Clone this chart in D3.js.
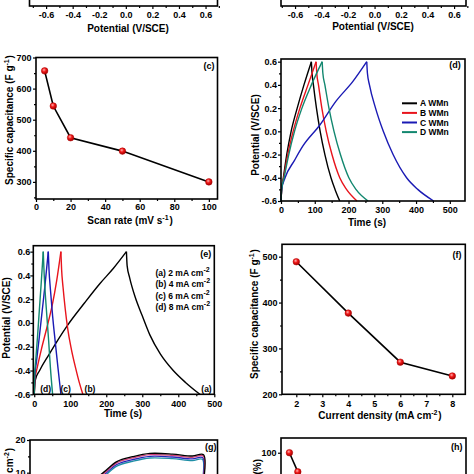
<!DOCTYPE html>
<html><head><meta charset="utf-8">
<script src="https://cdn.jsdelivr.net/npm/d3@7"></script>
<style>
html,body{margin:0;padding:0;background:#fff;overflow:hidden}
svg text{font-family:"Liberation Sans",Arial,Helvetica,sans-serif;font-weight:bold;fill:#000}
</style>
</head><body>
<svg id="fig" width="474" height="474"></svg>
<script>
// ---------------- DATA ----------------
// (a),(b) potential axes (only the bottom is visible)
const potTicks = [-0.6,-0.4,-0.2,0.0,0.2,0.4,0.6];
// (c) specific capacitance vs scan rate
const cScanRate = [5,10,20,50,100];
const cCapacitance = [657,544,442,399,300];
const cXTicks = [0,20,40,60,80,100];
const cYTicks = [300,400,500,600,700];
// (d) GCD curves of samples [time s, potential V]
const dSeries = ["A WMn","B WMn","C WMn","D WMn"];
const dChargeA = [[0,-0.6],[2,-0.5],[7,-0.4],[17,-0.2],[30,0.0],[48,0.2],[68,0.4],[90,0.6]];
const dDischargeA = [[90,0.6],[92,0.5],[96,0.4],[105,0.2],[116,0.0],[130,-0.2],[148,-0.4],[160,-0.5],[174,-0.6]];
const dChargeB = [[0,-0.6],[2,-0.5],[8,-0.4],[20,-0.2],[36,0.0],[56,0.2],[80,0.4],[104,0.6]];
const dDischargeB = [[104,0.6],[106,0.5],[111,0.4],[121,0.2],[134,0.0],[151,-0.2],[174,-0.4],[194,-0.5],[225,-0.6]];
const dChargeC = [[0,-0.6],[2,-0.5],[12,-0.4],[40,-0.25],[64,-0.13],[114,0.05],[163,0.26],[213,0.43],[254,0.6]];
const dDischargeC = [[254,0.6],[256,0.5],[262,0.4],[280,0.2],[303,0.0],[332,-0.2],[372,-0.4],[405,-0.5],[452,-0.6]];
const dChargeD = [[0,-0.6],[2,-0.5],[9,-0.4],[23,-0.2],[40,0.0],[62,0.2],[90,0.4],[122,0.6]];
const dDischargeD = [[122,0.6],[124,0.5],[130,0.4],[142,0.2],[157,0.0],[176,-0.2],[201,-0.4],[222,-0.5],[258,-0.6]];
const timeTicks = [0,100,200,300,400,500];
// (e) GCD at different current densities
const eLabels = ["(a)","(b)","(c)","(d)"];
const eLegend = ["(a) 2 mA cm","(b) 4 mA cm","(c) 6 mA cm","(d) 8 mA cm"];
const eChargeA = [[0,-0.6],[3,-0.48],[15,-0.4],[40,-0.27],[90,-0.03],[140,0.17],[182,0.33],[220,0.46],[256,0.6]];
const eDischargeA = [[256,0.6],[258,0.48],[265,0.38],[280,0.22],[300,0.06],[321,-0.1],[350,-0.26],[386,-0.4],[420,-0.5],[460,-0.6]];
const eChargeB = [[0,-0.6],[2,-0.47],[8,-0.38],[20,-0.22],[35,-0.04],[50,0.15],[62,0.35],[74,0.6]];
const eDischargeB = [[74,0.6],[76,0.45],[80,0.3],[86,0.12],[93,-0.05],[103,-0.22],[115,-0.38],[125,-0.5],[135,-0.6]];
const eChargeC = [[0,-0.6],[1.5,-0.45],[6,-0.33],[14,-0.12],[22,0.1],[30,0.32],[39,0.6]];
const eDischargeC = [[39,0.6],[41,0.45],[45,0.28],[51,0.06],[58,-0.15],[66,-0.38],[74,-0.6]];
const eChargeD = [[0,-0.6],[1,-0.45],[4,-0.32],[9,-0.12],[14,0.1],[19,0.32],[25,0.6]];
const eDischargeD = [[25,0.6],[27,0.45],[30,0.28],[35,0.06],[40,-0.15],[45,-0.38],[51,-0.6]];
// (f) specific capacitance vs current density
const fCurrentDensity = [2,4,6,8];
const fCapacitance = [489,377,270,240];
const fXTicks = [2,3,4,5,6,7,8];
const fYTicks = [200,300,400,500];
// (g) CV upper branches [potential V, current density mA cm-2]
const gBlack = [[-0.45,2],[-0.3,6],[-0.17,10.1],[-0.07,13.4],[0.05,14.9],[0.18,15.9],[0.35,15.7],[0.5,15.1],[0.585,15.5],[0.58,5],[0.57,-2]];
const gRed   = [[-0.45,1.6],[-0.3,5.6],[-0.17,9.7],[-0.07,13.0],[0.05,14.5],[0.18,15.5],[0.35,15.3],[0.5,14.7],[0.582,15.1],[0.577,5],[0.567,-2]];
const gBlue  = [[-0.45,1.1],[-0.3,5.1],[-0.17,9.2],[-0.07,12.5],[0.05,14.0],[0.18,15.0],[0.35,14.8],[0.5,14.2],[0.579,14.6],[0.574,5],[0.564,-2]];
const gTeal  = [[-0.45,0.6],[-0.3,4.6],[-0.17,8.7],[-0.07,12.0],[0.05,13.5],[0.18,14.5],[0.35,14.3],[0.5,13.7],[0.576,14.1],[0.571,5],[0.561,-2]];
const gYTicks = [10,20];
// (h) retention
const hX = [1,2];
const hY = [100,87];
const hYTicks = [100];

// ---------------- STYLE ----------------
const dColors = ["#000000","#e8141c","#1a1ab4","#12876f"];
const gColors = ["#000000","#d23c78","#2626b8","#1f8fa6"];

const svg = d3.select("#fig");
const defs = svg.append("defs");
const grad = defs.append("radialGradient").attr("id","ball").attr("cx","40%").attr("cy","35%").attr("r","65%");
grad.append("stop").attr("offset","0%").attr("stop-color","#ffb0b0");
grad.append("stop").attr("offset","45%").attr("stop-color","#f01818");
grad.append("stop").attr("offset","100%").attr("stop-color","#a00000");

const fmt1 = d => (Math.abs(d) < 1e-9 ? 0 : d).toFixed(1);
const fmt0 = d => String(d);

function styleAxis(ga, fs){
  ga.select(".domain").remove();
  ga.selectAll(".tick line").attr("stroke","#000").attr("stroke-width",1.2);
  ga.selectAll("text").style("font-size", fs+"px").style("font-weight","bold")
    .style("font-family",'"Liberation Sans",Arial,sans-serif').attr("fill","#000");
  ga.attr("font-family",null).attr("font-size",null);
}

function makePanel(o){
  const g = svg.append("g");
  const x = d3.scaleLinear().domain(o.xd).range([o.l,o.r]);
  const y = d3.scaleLinear().domain(o.yd).range([o.b,o.t]);
  const fs = 9;
  if(o.xt){
    const ax = d3.axisBottom(x).tickValues(o.xt).tickSize(3).tickSizeOuter(0)
      .tickPadding(o.xpad!=null?o.xpad:3).tickFormat(o.xf||fmt0);
    styleAxis(g.append("g").attr("transform",`translate(0,${o.b})`).call(ax), fs);
  }
  if(o.xm){
    const ax = d3.axisBottom(x).tickValues(o.xm).tickSize(2).tickSizeOuter(0).tickFormat("");
    styleAxis(g.append("g").attr("transform",`translate(0,${o.b})`).call(ax), fs);
  }
  if(o.yt){
    const ay = d3.axisLeft(y).tickValues(o.yt).tickSize(3).tickSizeOuter(0)
      .tickPadding(o.ypad!=null?o.ypad:1.5).tickFormat(o.yf||fmt0);
    styleAxis(g.append("g").attr("transform",`translate(${o.l},0)`).call(ay), fs);
  }
  if(o.ym){
    const ay = d3.axisLeft(y).tickValues(o.ym).tickSize(2).tickSizeOuter(0).tickFormat("");
    styleAxis(g.append("g").attr("transform",`translate(${o.l},0)`).call(ay), fs);
  }
  const plot = g.append("g");
  g.append("rect").attr("x",o.l).attr("y",o.t).attr("width",o.r-o.l).attr("height",o.b-o.t)
    .attr("fill","none").attr("stroke","#000").attr("stroke-width",1.6);
  return {g, plot, x, y};
}

function text(g, x, y, parts, opts={}){
  const t = g.append("text").attr("x",x).attr("y",y)
    .attr("text-anchor",opts.anchor||"middle")
    .style("font-size",(opts.fs||10)+"px");
  if(opts.rotate) t.attr("transform",`rotate(-90,${x},${y})`);
  parts.forEach(p=>{
    if(typeof p === "string") t.append("tspan").text(p);
    else {
      t.append("tspan").attr("dy",-4).style("font-size","7px").text(p.sup);
      t.append("tspan").attr("dy",4).text("\u200a");
    }
  });
  return t;
}

function seg(P, data, color, w, curve){
  const line = d3.line().x(d=>P.x(d[0])).y(d=>P.y(d[1])).curve(curve||d3.curveMonotoneX);
  P.plot.append("path").attr("d",line(data)).attr("fill","none")
    .attr("stroke",color).attr("stroke-width",w).attr("stroke-linejoin","round");
}

function balls(P, xs, ys){
  const pts = xs.map((v,i)=>[v,ys[i]]);
  const line = d3.line().x(d=>P.x(d[0])).y(d=>P.y(d[1]));
  P.plot.append("path").attr("d",line(pts)).attr("fill","none").attr("stroke","#000").attr("stroke-width",1.6);
  P.plot.selectAll(null).data(pts).join("circle")
    .attr("cx",d=>P.x(d[0])).attr("cy",d=>P.y(d[1])).attr("r",3.3)
    .attr("fill","url(#ball)").attr("stroke","#b00000").attr("stroke-width",0.5);
}

// ---------- (a) & (b): bottoms only ----------
const potMinor = d3.range(-0.7,0.71,0.1).map(v=>+v.toFixed(2)).filter(v=>!potTicks.some(t=>Math.abs(t-v)<1e-6));
const A = makePanel({l:29.5,r:217.5,t:-160,b:6,xd:[-0.725,0.69],yd:[0,1],xt:potTicks,xm:potMinor.filter(v=>v>-0.72),xf:fmt1});
text(A.g,128,32,["Potential (V/SCE)"]);
const B = makePanel({l:281,r:466,t:-160,b:6,xd:[-0.706,0.69],yd:[0,1],xt:potTicks,xm:potMinor,xf:fmt1});
text(B.g,373,30,["Potential (V/SCE)"]);

// ---------- (c) ----------
const C = makePanel({l:36,r:217.5,t:57.5,b:199,xd:[0,105],yd:[245,700],
  xt:cXTicks,xm:[10,30,50,70,90],yt:cYTicks,ym:[250,350,450,550,650],xpad:1.5,ypad:1.5});
balls(C, cScanRate, cCapacitance);
text(C.g,209,69,["(c)"],{fs:9});
text(C.g,130,224,["Scan rate (mV s",{sup:"-1"},")"]);
text(C.g,13,120,["Specific capacitance (F g",{sup:"-1"},")"],{rotate:true});

// ---------- (d) ----------
const D = makePanel({l:281,r:465,t:59,b:201,xd:[0,545],yd:[-0.6,0.623],
  xt:timeTicks,xm:[50,150,250,350,450],yt:potTicks,ym:[-0.5,-0.3,-0.1,0.1,0.3,0.5],yf:fmt1,xpad:3,ypad:1});
[[dChargeA,dDischargeA],[dChargeB,dDischargeB],[dChargeC,dDischargeC],[dChargeD,dDischargeD]]
  .forEach((s,i)=>{ seg(D,s[0],dColors[i],1.4); seg(D,s[1],dColors[i],1.4); });
text(D.g,455,68,["(d)"],{fs:9});
text(D.g,367,226,["Time (s)"]);
text(D.g,259,135,["Potential (V/SCE)"],{rotate:true});
dSeries.forEach((n,i)=>{
  const yy = 103.3 + i*9.6;
  D.g.append("line").attr("x1",402).attr("x2",417).attr("y1",yy).attr("y2",yy)
    .attr("stroke",dColors[i]).attr("stroke-width",2);
  text(D.g,420,yy+3,[n],{anchor:"start",fs:8.5});
});

// ---------- (e) ----------
const E = makePanel({l:33.3,r:214.3,t:245.7,b:394.3,xd:[-2.6,500],yd:[-0.6,0.65],
  xt:timeTicks,xm:[50,150,250,350,450],yt:potTicks,ym:[-0.5,-0.3,-0.1,0.1,0.3,0.5],yf:fmt1,xpad:3,ypad:0});
[[eChargeA,eDischargeA],[eChargeB,eDischargeB],[eChargeC,eDischargeC],[eChargeD,eDischargeD]]
  .forEach((s,i)=>{ seg(E,s[0],dColors[i],1.4); seg(E,s[1],dColors[i],1.4); });
text(E.g,205.7,257,["(e)"],{fs:9});
[[206.5,"(a)"],[90,"(b)"],[65.7,"(c)"],[45.7,"(d)"]].forEach(p=>text(E.g,p[0],392,[p[1]],{fs:8.5}));
eLegend.forEach((s,i)=>text(E.g,155.5,275.7+i*11.4,[s,{sup:"-2"}],{anchor:"start",fs:8.5}));
text(E.g,123,417,["Time (s)"]);
text(E.g,10,318,["Potential (V/SCE)"],{rotate:true});

// ---------- (f) ----------
const F = makePanel({l:282,r:465.3,t:244.3,b:394.3,xd:[1.45,8.5],yd:[200,527],
  xt:fXTicks,xm:[2.5,3.5,4.5,5.5,6.5,7.5],yt:fYTicks,ym:[250,350,450],xpad:3,ypad:1.5});
balls(F, fCurrentDensity, fCapacitance);
text(F.g,457,258,["(f)"],{fs:9});
text(F.g,380,419,["Current density (mA cm",{sup:"-2"},")"]);
text(F.g,258,314,["Specific capacitance (F g",{sup:"-1"},")"],{rotate:true});

// ---------- (g) ----------
const G = makePanel({l:30,r:217.5,t:440,b:560,xd:[-0.725,0.69],yd:[-16.7,20],
  yt:gYTicks,ym:[15],ypad:1.5});
[gBlack,gRed,gBlue,gTeal].slice().reverse().forEach((s,i)=>seg(G,s,gColors[3-i],1.3,d3.curveCatmullRom.alpha(0.5)));
text(G.g,210.7,450,["(g)"],{fs:9});
text(G.g,13,448,["Current density (mA cm",{sup:"-2"},")"],{rotate:true,anchor:"end"});

// ---------- (h) ----------
const H = makePanel({l:281,r:466,t:438,b:600,xd:[0,22],yd:[0,110],yt:hYTicks,ym:[],ypad:1.5});
H.y = d3.scaleLinear().domain([90,110]).range([467.4,438]);
balls(H, hX, hY);
text(H.g,456.7,450,["(h)"],{fs:9});
text(H.g,261,459,["Capacitance retention (%)"],{rotate:true,anchor:"end"});
</script>
</body></html>
